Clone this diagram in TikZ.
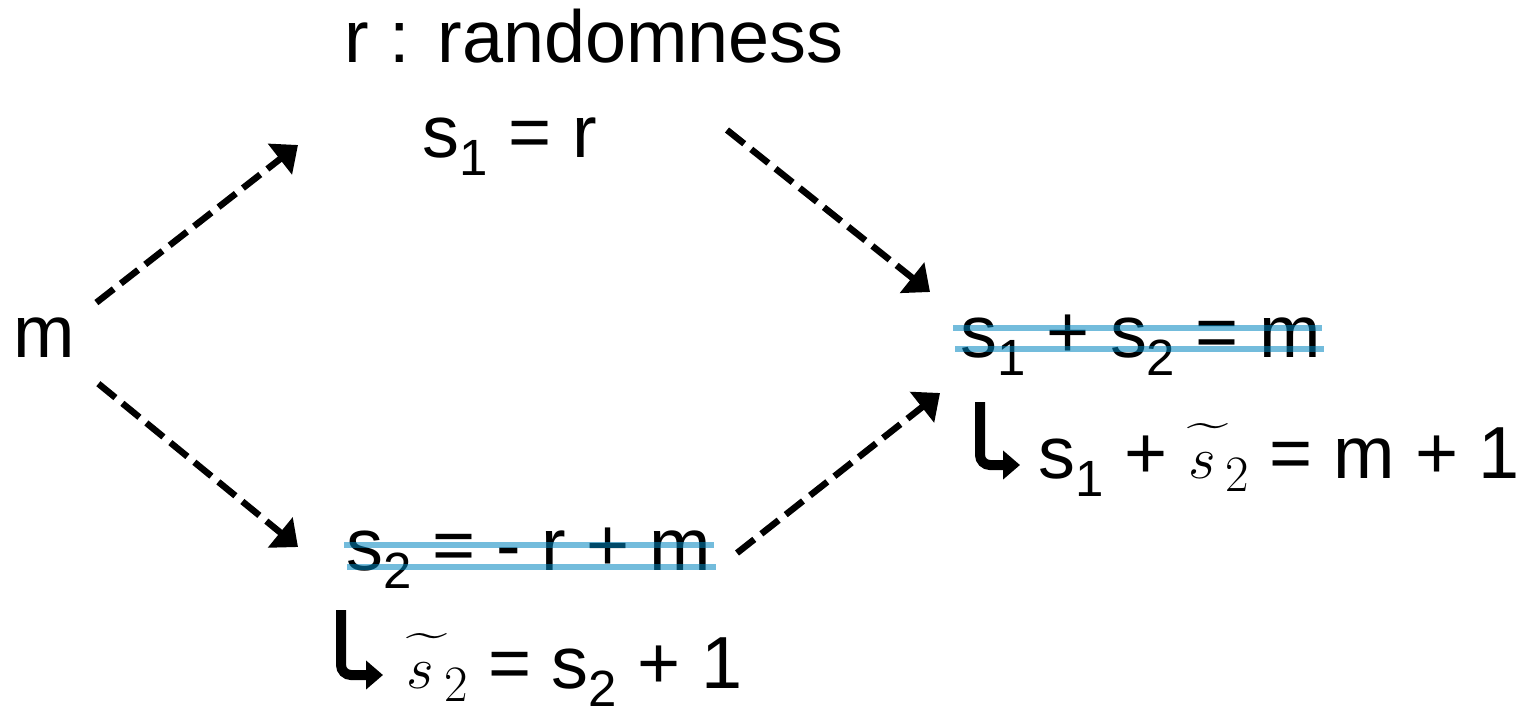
\documentclass[tikz,border=0pt]{standalone}
\usepackage{graphicx}
\usepackage{fontspec}
\setmainfont{Liberation Sans}
\usetikzlibrary{arrows.meta}

\definecolor{strikeblue}{RGB}{0,133,191}

\newcommand{\lowidx}[1]{\raisebox{-0.25em}{\fontsize{14.5}{14.5}\selectfont #1}}
\newcommand{\stil}{\rlap{\kern0.2cm\scalebox{2.1}[1.3]{$\widetilde{\vphantom{s}}$}}\scalebox{0.82}{$s$}\kern0.1cm\raisebox{-0.13cm}{\scalebox{0.7}{$2$}}}

\begin{document}
\begin{tikzpicture}[
  every node/.style={inner sep=0pt, anchor=base west, font=\fontsize{21}{21}\selectfont},
  flow/.style={line width=0.065cm, dash pattern=on 0.22cm off 0.09cm, -{Triangle[length=0.23cm,width=0.38cm]}},
  hook/.style={line width=0.1cm, rounded corners=0.1cm, -{Triangle[length=0.17cm,width=0.28cm]}},
  strike/.style={line width=0.06cm, strikeblue, opacity=0.55}
]
\useasboundingbox (0,0) rectangle (15.19,7.12);

% message and shares
\node (m) at (0.13,3.55) {m};
\node (rand) at (3.44,6.50) {r : randomness};
\node (s1) at (4.22,5.55) {s\lowidx{1} = r};
\node (s2) at (3.46,1.42) {s\lowidx{2} = - r + m};
\node (sum) at (9.60,3.55) {s\lowidx{1} + s\lowidx{2} = m};

% tampered share
\node (s2t) at (4.06,0.24) {\stil\ = s\lowidx{2} + 1};
\node (sumt) at (10.38,2.34) {s\lowidx{1} + \stil\ = m + 1};

% splitting
\draw[flow] ([shift={(0.205,0.14)}]m.north east) -- ([shift={(-1.24,0.12)}]s1.base west);
\draw[flow] ([shift={(0.225,-0.26)}]m.south east) -- ([shift={(-0.48,0.23)}]s2.base west);

% reconstruction
\draw[flow] ([shift={(3.05,0.27)}]s1.base west) -- ([shift={(-0.30,0.65)}]sum.base west);
\draw[flow] ([shift={(3.91,0.17)}]s2.base west) -- ([shift={(-0.20,-0.36)}]sum.base west);

% crossed out
\draw[strike] ([shift={(-0.07,0.29)}]sum.base west) -- ([shift={(0.00,0.29)}]sum.base east);
\draw[strike] ([shift={(-0.05,0.08)}]sum.base west) -- ([shift={(0.02,0.08)}]sum.base east);
\draw[strike] ([shift={(-0.02,0.25)}]s2.base west) -- ([shift={(0.02,0.25)}]s2.base east);
\draw[strike] ([shift={(0.01,0.03)}]s2.base west) -- ([shift={(0.04,0.03)}]s2.base east);

% hooks
\draw[hook] ([shift={(-0.58,0.76)}]sumt.base west) |- ([shift={(-0.18,0.13)}]sumt.base west);
\draw[hook] ([shift={(-0.65,0.78)}]s2t.base west) |- ([shift={(-0.23,0.13)}]s2t.base west);

\end{tikzpicture}
\end{document}
